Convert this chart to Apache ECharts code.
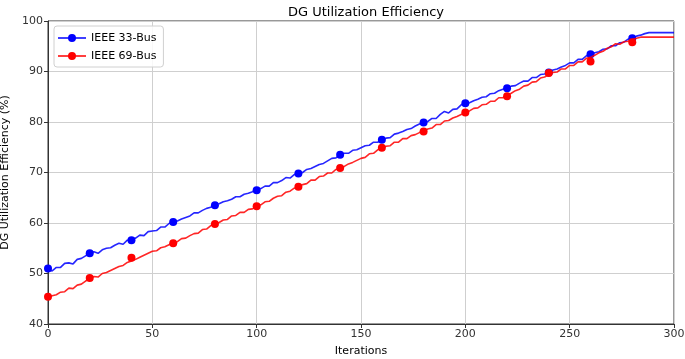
<!DOCTYPE html>
<html>
<head>
<meta charset="utf-8">
<title>DG Utilization Efficiency</title>
<script src="https://cdn.jsdelivr.net/npm/echarts@6/dist/echarts.min.js"></script>
<style>
    html, body { margin: 0; padding: 0; background: #fff; }
    #lineChart { width: 685px; height: 359px; }
</style>
</head>
<body>
<div id="lineChart"></div>
<script>
// 迭代次数 (line points every 2 iterations)
const iterations = [];
for (let i = 0; i <= 300; i += 2) iterations.push(i);
// marker positions, every 20 iterations
const markerIters = [0, 20, 40, 60, 80, 100, 120, 140, 160, 180, 200, 220, 240, 260, 280];

const bus33Line = [
    50.8, 50.5, 51.2, 51.2, 52.0, 52.1, 51.9, 52.8, 53.0, 53.5, 53.9,
    54.3, 54.0, 54.7, 55.0, 55.1, 55.6, 56.0, 55.8, 56.6, 56.8,
    57.0, 57.6, 57.5, 58.3, 58.4, 58.5, 59.2, 59.2, 59.9, 60.2,
    60.4, 60.8, 61.1, 61.4, 62.0, 62.0, 62.5, 62.9, 63.1, 63.7,
    63.8, 64.2, 64.4, 64.7, 65.2, 65.2, 65.7, 65.9, 66.2, 66.7,
    66.8, 67.3, 67.3, 68.0, 68.0, 68.4, 69.0, 68.9, 69.6, 69.8,
    70.0, 70.6, 70.8, 71.2, 71.6, 71.8, 72.3, 72.8, 72.9, 73.5,
    73.8, 73.8, 74.4, 74.5, 74.9, 75.3, 75.4, 76.0, 76.0, 76.5,
    76.8, 76.9, 77.6, 77.8, 78.1, 78.5, 78.7, 79.2, 79.6, 79.9,
    80.1, 80.7, 80.7, 81.5, 82.1, 81.8, 82.5, 82.6, 83.4, 83.6,
    83.8, 84.2, 84.5, 84.9, 85.0, 85.6, 85.7, 86.2, 86.5, 86.7,
    87.1, 87.2, 87.7, 88.1, 88.1, 88.8, 88.8, 89.4, 89.5, 89.9,
    90.3, 90.5, 90.9, 91.2, 91.7, 91.7, 92.4, 92.4, 93.1, 93.3,
    93.7, 93.9, 94.4, 94.5, 95.1, 95.1, 95.7, 95.8, 96.4, 96.6,
    97.0, 97.2, 97.5, 97.7, 97.7, 97.7, 97.7, 97.7, 97.7, 97.7
];
const bus69Line = [
    45.2, 45.6, 45.8, 46.3, 46.4, 47.1, 47.0, 47.7, 47.9, 48.5, 48.9,
    49.4, 49.3, 50.0, 50.2, 50.6, 51.0, 51.4, 51.6, 52.2, 52.5,
    52.8, 53.2, 53.6, 54.0, 54.4, 54.5, 55.1, 55.3, 55.7, 56.0,
    56.3, 56.9, 57.0, 57.5, 57.9, 58.0, 58.7, 58.8, 59.5, 59.8,
    60.1, 60.6, 60.7, 61.4, 61.5, 62.1, 62.1, 62.7, 62.8, 63.3,
    63.6, 64.2, 64.3, 64.9, 65.3, 65.4, 66.1, 66.3, 66.9, 67.2,
    67.6, 67.8, 68.5, 68.5, 69.2, 69.3, 69.9, 69.9, 70.6, 70.8,
    71.2, 71.7, 72.0, 72.4, 72.8, 73.0, 73.7, 73.8, 74.5, 74.8,
    75.2, 75.3, 76.0, 76.0, 76.7, 76.7, 77.3, 77.5, 77.9, 78.2,
    78.6, 78.8, 79.5, 79.5, 80.2, 80.3, 80.8, 81.1, 81.5, 81.9,
    82.2, 82.7, 82.8, 83.4, 83.5, 84.1, 84.1, 84.8, 84.8, 85.3,
    85.7, 86.2, 86.5, 87.1, 87.3, 87.9, 88.0, 88.7, 88.9, 89.4,
    89.8, 89.9, 90.5, 90.5, 91.2, 91.2, 91.9, 91.9, 92.6, 92.8,
    93.2, 93.7, 94.0, 94.6, 94.9, 95.5, 95.4, 95.9, 96.0, 96.3,
    96.6, 96.8, 96.8, 96.8, 96.8, 96.8, 96.8, 96.8, 96.8, 96.8
];
const bus33Markers = [51.0, 54.0, 56.6, 60.2, 63.5, 66.5, 69.8, 73.5, 76.5, 79.9, 83.7, 86.7, 89.8, 93.4, 96.6];
const bus69Markers = [45.4, 49.1, 53.1, 56.0, 59.8, 63.3, 67.2, 70.9, 74.9, 78.1, 81.9, 85.1, 89.7, 92.0, 95.8];

const seriesNames = ['IEEE 33-Bus', 'IEEE 69-Bus'];
const fontFamily = 'DejaVu Sans';

function pairs(xs, ys) {
    return ys.map((y, i) => [xs[i], y]);
}

// legend icon: short line with a dot in the middle
const legendIcon = 'path://M0,3.3 L28,3.3 L28,4.7 L0,4.7 Z M18,4 A4,4 0 1 1 10,4 A4,4 0 1 1 18,4 Z';

const chart = echarts.init(document.getElementById('lineChart'));
const option = {
    animation: false,
    backgroundColor: '#fff',
    textStyle: { fontFamily: fontFamily },
    title: {
        text: 'DG Utilization Efficiency',
        left: 361,
        textAlign: 'center',
        top: 1,
        textStyle: { fontFamily: fontFamily, fontSize: 13, fontWeight: 'normal', color: '#000' }
    },
    legend: {
        orient: 'vertical',
        left: 54,
        top: 26,
        padding: [5, 7, 4, 4],
        itemGap: 4,
        itemWidth: 28,
        itemHeight: 8,
        backgroundColor: 'rgba(255,255,255,0.85)',
        borderColor: '#d0d0d0',
        borderWidth: 1,
        borderRadius: 3,
        textStyle: { fontFamily: fontFamily, fontSize: 11, color: '#000', lineHeight: 14 },
        data: [
            { name: seriesNames[0], icon: legendIcon, itemStyle: { color: '#0000ff' } },
            { name: seriesNames[1], icon: legendIcon, itemStyle: { color: '#ff0000' } }
        ]
    },
    grid: {
        left: 48,
        right: 11,
        top: 21,
        bottom: 35,
        outerBoundsMode: 'none',
        containLabel: false,
        show: true,
        borderColor: '#333',
        borderWidth: 1,
        backgroundColor: 'transparent'
    },
    xAxis: {
        type: 'value',
        min: 0,
        max: 300,
        interval: 50,
        name: 'Iterations',
        nameLocation: 'middle',
        nameGap: 22,
        nameTextStyle: { fontFamily: fontFamily, fontSize: 11, color: '#000' },
        axisLine: { show: true, onZero: false, lineStyle: { color: '#333' } },
        axisTick: { show: true, length: 4, lineStyle: { color: '#333' } },
        axisLabel: { fontSize: 11, color: '#333', margin: 5 },
        splitLine: { show: true, lineStyle: { color: '#cfcfcf', width: 1 } }
    },
    yAxis: {
        type: 'value',
        min: 40,
        max: 100,
        interval: 10,
        name: 'DG Utilization Efficiency (%)',
        nameLocation: 'middle',
        nameGap: 36,
        nameTextStyle: { fontFamily: fontFamily, fontSize: 11, color: '#000' },
        axisLine: { show: true, lineStyle: { color: '#333' } },
        axisTick: { show: true, length: 4, lineStyle: { color: '#333' } },
        axisLabel: { fontSize: 11, color: '#333', margin: 5 },
        splitLine: { show: true, lineStyle: { color: '#cfcfcf', width: 1 } }
    },
    series: [
        { // 33-bus line
            name: seriesNames[0],
            type: 'line',
            data: pairs(iterations, bus33Line),
            showSymbol: false,
            lineStyle: { color: '#0000ff', width: 1.6, opacity: 0.85 },
            itemStyle: { color: '#0000ff' },
            z: 2
        },
        { // 33-bus markers
            name: seriesNames[0],
            type: 'scatter',
            data: pairs(markerIters, bus33Markers),
            symbolSize: 8,
            itemStyle: { color: '#0000ff', opacity: 1 },
            z: 3
        },
        { // 69-bus line
            name: seriesNames[1],
            type: 'line',
            data: pairs(iterations, bus69Line),
            showSymbol: false,
            lineStyle: { color: '#ff0000', width: 1.6, opacity: 0.85 },
            itemStyle: { color: '#ff0000' },
            z: 4
        },
        { // 69-bus markers
            name: seriesNames[1],
            type: 'scatter',
            data: pairs(markerIters, bus69Markers),
            symbolSize: 8,
            itemStyle: { color: '#ff0000', opacity: 1 },
            z: 5
        }
    ]
};
chart.setOption(option);
window.addEventListener('resize', () => {
    chart.resize();
});
</script>
</body>
</html>
